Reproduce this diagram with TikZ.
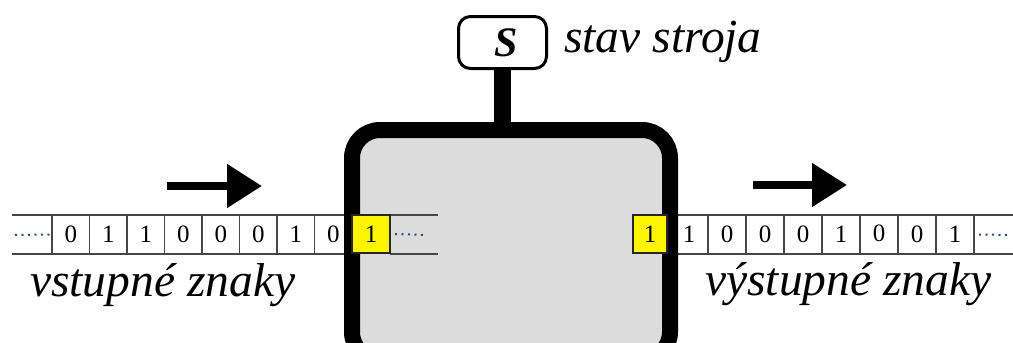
\documentclass[tikz,border=0pt]{standalone}
\usepackage{fontspec}
\setmainfont{Liberation Serif}
\usetikzlibrary{arrows.meta}

\definecolor{boxgray}{RGB}{220,220,220}
\definecolor{tapegray}{RGB}{70,70,70}
\definecolor{headyellow}{RGB}{255,245,0}
\definecolor{dotblue}{RGB}{40,70,150}

\newcommand{\tapetextfont}{\fontsize{47.5}{50}\selectfont\itshape}
\newcommand{\digitfont}{\fontsize{25}{28}\selectfont}

\begin{document}
\begin{tikzpicture}[x=1pt, y=-1pt,
    machine/.style={fill=boxgray, minimum width=318pt, minimum height=230pt,
        inner sep=0pt, outer sep=0pt, rounded corners=28pt},
    frame/.style={draw=black, line width=16pt, rounded corners=28pt},
    statebox/.style={draw=black, line width=3pt, fill=white, rounded corners=12pt,
        minimum width=88pt, minimum height=52pt, inner sep=0pt,
        font=\fontsize{42}{44}\selectfont\bfseries\itshape},
    stem/.style={draw=black, line width=17pt},
    cell/.style={draw=tapegray, line width=1.5pt, minimum width=37.5pt,
        minimum height=39pt, inner sep=0pt, outer sep=0pt, font=\digitfont},
    outcell/.style={cell, minimum width=38pt},
    headcell/.style={cell, draw=black!85, fill=headyellow, minimum height=38pt},
    tapeline/.style={draw=tapegray, line width=2pt},
    dots/.style={draw=dotblue, line width=2pt, dash pattern=on 2pt off 4.5pt},
    move/.style={draw=black, line width=8pt, -{Triangle[length=35pt, width=42pt]}},
    tapetext/.style={inner sep=0pt, anchor=base west, font=\tapetextfont}
]
    \useasboundingbox (0,0) rectangle (1013,343);
    \clip (0,0) rectangle (1013,343);

    % machine with its state register
    \node[statebox] (state) at (502.5,42.5) {\hspace{8pt}S};
    \draw[stem] (state.south) -- (502.5,200);
    \node[machine] (mach) at (511,245) {};

    % input tape
    \draw[tapeline] (12,215) -- (344,215);
    \draw[tapeline] (12,254) -- (344,254);
    \node[cell] (in1) at (70.75,234.5) {0};
    \node[cell] (in2) at (108.25,234.5) {1};
    \node[cell] (in3) at (145.75,234.5) {1};
    \node[cell] (in4) at (183.25,234.5) {0};
    \node[cell] (in5) at (220.75,234.5) {0};
    \node[cell] (in6) at (258.25,234.5) {0};
    \node[cell] (in7) at (295.75,234.5) {1};
    \node[cell] (in8) at (333.25,234.5) {0};
    \draw[dots] (15,235) -- (in1.west);
    \draw[tapeline] (390,215) -- (438,215);
    \draw[tapeline] (390,254) -- (438,254);

    % output tape
    \draw[tapeline] (678,215) -- (1013,215);
    \draw[tapeline] (678,254) -- (1013,254);
    \node[outcell] (out1) at (689,234.5) {1};
    \node[outcell] (out2) at (727,234.5) {0};
    \node[outcell] (out3) at (765,234.5) {0};
    \node[outcell] (out4) at (803,234.5) {0};
    \node[outcell] (out5) at (841,234.5) {1};
    \node[outcell] (out6) at (879,234.5) {\raisebox{2pt}{0}};
    \node[outcell] (out7) at (917,234.5) {0};
    \node[outcell] (out8) at (955,234.5) {1};
    \draw[dots] ([xshift=5pt]out8.east) -- (1010,235);

    \draw[frame] (mach.north west) rectangle (mach.south east);

    % read and write heads
    \node[headcell, minimum width=38pt] (readhead) at (371,234) {1};
    \node[headcell, minimum width=34pt] (writehead) at (650,234) {1};
    \draw[dots] ([xshift=5pt]readhead.east) -- (426,235);

    % direction of the tapes
    \coordinate (inA) at (167,186);
    \coordinate (inB) at (262,186);
    \coordinate (outA) at (753,185);
    \coordinate (outB) at (847,185);
    \draw[move] (inA) -- (inB);
    \draw[move] (outA) -- (outB);

    \node[tapetext] (statetext) at (564,52) {stav stroja};
    \node[tapetext] (intext) at (30,296) {vstupné znaky};
    \node[tapetext] (outtext) at (705,295) {výstupné znaky};
\end{tikzpicture}
\end{document}
